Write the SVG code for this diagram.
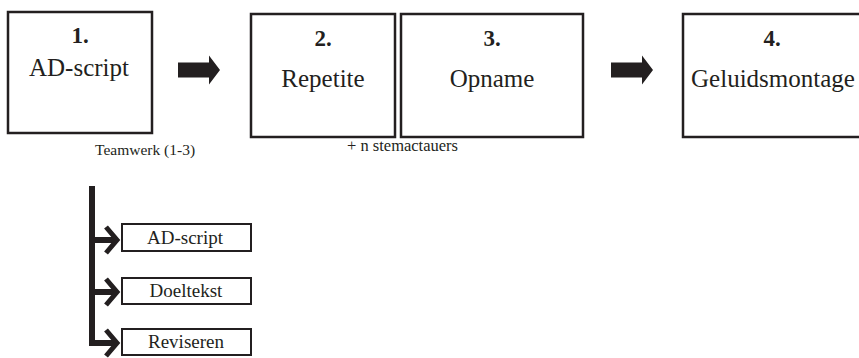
<svg xmlns="http://www.w3.org/2000/svg" width="859" height="358" viewBox="0 0 859 358">
  <style>
    .box { fill: #fff; stroke: #231f20; stroke-width: 2.5; }
    .sbox { fill: #fff; stroke: #231f20; stroke-width: 2; }
    .num { font-family: "Liberation Serif", "Times New Roman", serif; font-weight: bold; font-size: 23px; fill: #231f20; text-anchor: middle; }
    .lbl { font-family: "Liberation Serif", "Times New Roman", serif; font-size: 25px; fill: #231f20; text-anchor: middle; }
    .slbl { font-family: "Liberation Serif", "Times New Roman", serif; font-size: 19px; fill: #231f20; text-anchor: middle; }
    .note { font-family: "Liberation Serif", "Times New Roman", serif; font-size: 15.5px; fill: #231f20; }
    .bar { fill: none; stroke: #231f20; stroke-width: 6; stroke-linejoin: miter; }
    .chev { fill: none; stroke: #231f20; stroke-width: 5; stroke-linejoin: miter; stroke-miterlimit: 10; }
    .big { fill: #231f20; }
  </style>
  <defs>
    <!-- block arrow between process steps -->
    <polygon id="bigArrow" class="big" points="0,-7.5 31,-7.5 31,-14.5 42,0 31,14.5 31,7.5 0,7.5"/>
  </defs>

  <g id="step1">
    <rect class="box" x="8" y="12" width="144" height="121"/>
    <text class="num" x="80" y="43">1.</text>
    <text class="lbl" x="79" y="76">AD-script</text>
  </g>
  <g id="step2">
    <rect class="box" x="251" y="14" width="144" height="123"/>
    <text class="num" x="323" y="46">2.</text>
    <text class="lbl" x="323" y="87">Repetite</text>
  </g>
  <g id="step3">
    <rect class="box" x="401" y="14" width="182" height="123"/>
    <text class="num" x="492" y="46">3.</text>
    <text class="lbl" x="492" y="87">Opname</text>
  </g>
  <g id="step4">
    <rect class="box" x="683" y="14" width="180" height="123"/>
    <text class="num" x="772" y="46">4.</text>
    <text class="lbl" x="773" y="87">Geluidsmontage</text>
  </g>

  <g id="notes">
    <text class="note" x="95" y="155">Teamwerk (1-3)</text>
    <text class="note" x="347" y="151" style="font-size:16.5px">+ n stemactauers</text>
  </g>

  <g id="sub-adscript">
    <rect class="sbox" x="122" y="224" width="129" height="27"/>
    <text class="slbl" x="185" y="244">AD-script</text>
  </g>
  <g id="sub-doeltekst">
    <rect class="sbox" x="122" y="278" width="129" height="26"/>
    <text class="slbl" x="186" y="297">Doeltekst</text>
  </g>
  <g id="sub-reviseren">
    <rect class="sbox" x="122" y="329" width="129" height="26"/>
    <text class="slbl" x="186" y="348">Reviseren</text>
  </g>

  <g id="connectors">
    <use href="#bigArrow" x="178" y="70"/>
    <use href="#bigArrow" x="611" y="70"/>
    <!-- branching bracket to the three sub-tasks -->
    <path class="bar" d="M92,186 V343 H114"/>
    <path class="bar" d="M92,240 H114"/>
    <path class="bar" d="M92,292 H114"/>
    <polyline class="chev" points="106,227 117,240 106,253"/>
    <polyline class="chev" points="106,279 117,292 106,305"/>
    <polyline class="chev" points="106,330 117,343 106,356"/>
  </g>
</svg>
